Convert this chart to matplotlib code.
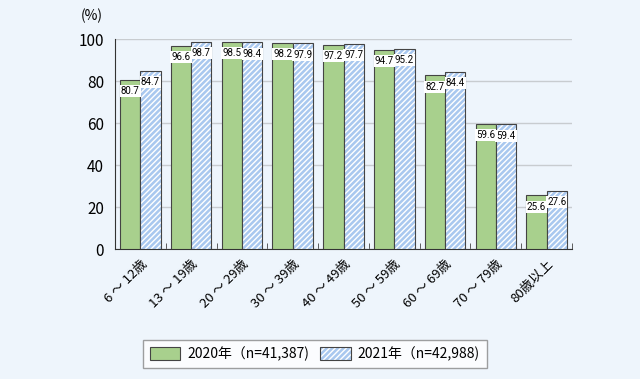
import matplotlib
matplotlib.use('Agg')
import matplotlib.pyplot as plt
import numpy as np
from matplotlib.patches import Patch
from matplotlib.legend_handler import HandlerTuple

plt.rcParams['font.family'] = ['Noto Sans CJK JP', 'DejaVu Sans']
plt.rcParams['hatch.linewidth'] = 1.0

categories = ['6 ～ 12歳', '13 ～ 19歳', '20 ～ 29歳', '30 ～ 39歳', '40 ～ 49歳',
              '50 ～ 59歳', '60 ～ 69歳', '70 ～ 79歳', '80歳以上']
vals_2020 = [80.7, 96.6, 98.5, 98.2, 97.2, 94.7, 82.7, 59.6, 25.6]
vals_2021 = [84.7, 98.7, 98.4, 97.9, 97.7, 95.2, 84.4, 59.4, 27.6]
label_2020 = '2020年（n=41,387)'
label_2021 = '2021年（n=42,988)'

bg = '#EEF5FC'
green = '#A8D08D'
blue = '#A9C8EF'
edge = '#444444'
fig = plt.figure(figsize=(6.4, 3.79), dpi=100, facecolor=bg)
ax = fig.add_axes([115/640, 1 - 249/379, (572-115)/640, (249-39)/379])
ax.set_facecolor(bg)

x = np.arange(len(categories))
w = 0.4
ax.bar(x - w/2, vals_2020, w, color=green, edgecolor=edge, linewidth=0.8, zorder=3)
# hatch in white, then outline on top
ax.bar(x + w/2, vals_2021, w, color=blue, edgecolor='white', linewidth=0,
       hatch='//////', zorder=3)
ax.bar(x + w/2, vals_2021, w, fill=False, edgecolor=edge, linewidth=0.8, zorder=4)

for xs, vals in ((x - w/2, vals_2020), (x + w/2, vals_2021)):
    for xi, v in zip(xs, vals):
        ax.text(xi, v - 3, f'{v:.1f}', ha='center', va='top',
                fontsize=7, family='Roboto', color='black', zorder=5,
                bbox=dict(boxstyle='square,pad=0.1', fc='white', ec='none'))

ax.set_xlim(-0.5, len(categories) - 0.5)
ax.set_ylim(0, 100)
ax.set_yticks(range(0, 101, 20))
ax.yaxis.grid(True, color='#C8CCD0', linewidth=1, zorder=0)
ax.tick_params(axis='y', length=0, labelsize=11, pad=8)
ax.set_xticks(x)
ax.set_xticklabels(categories, rotation=45, ha='right', rotation_mode='anchor', fontsize=9.5)
ax.tick_params(axis='x', length=0, pad=6)
ax.set_xticks(np.arange(0.5, len(categories) - 0.5 + 0.01, 1), minor=True)
ax.tick_params(axis='x', which='minor', length=4, direction='in', color=edge)
for s in ('top', 'right'):
    ax.spines[s].set_visible(False)
ax.spines['left'].set_color('#333333')
ax.spines['bottom'].set_color('#333333')
ax.text(-0.05, 111, '(%)', ha='center', va='center', fontsize=10,
        transform=ax.get_yaxis_transform())

h1 = Patch(facecolor=green, edgecolor=edge, linewidth=0.8)
h2 = (Patch(facecolor=blue, edgecolor='white', linewidth=0, hatch='//////'),
      Patch(fill=False, edgecolor=edge, linewidth=0.8))
leg = fig.legend(handles=[h1, h2], labels=[label_2020, label_2021], loc='center',
                 bbox_to_anchor=(315/640, 1 - 354/379),
                 handler_map={tuple: HandlerTuple(ndivide=1, pad=0)},
                 ncol=2, frameon=True, fancybox=False, edgecolor='#888888', fontsize=10,
                 handlelength=2.2, handleheight=1.1, columnspacing=0.8, handletextpad=0.5,
                 borderpad=0.5)
leg.get_frame().set_facecolor('white')

fig.savefig('out.png', dpi=100, facecolor=bg)
